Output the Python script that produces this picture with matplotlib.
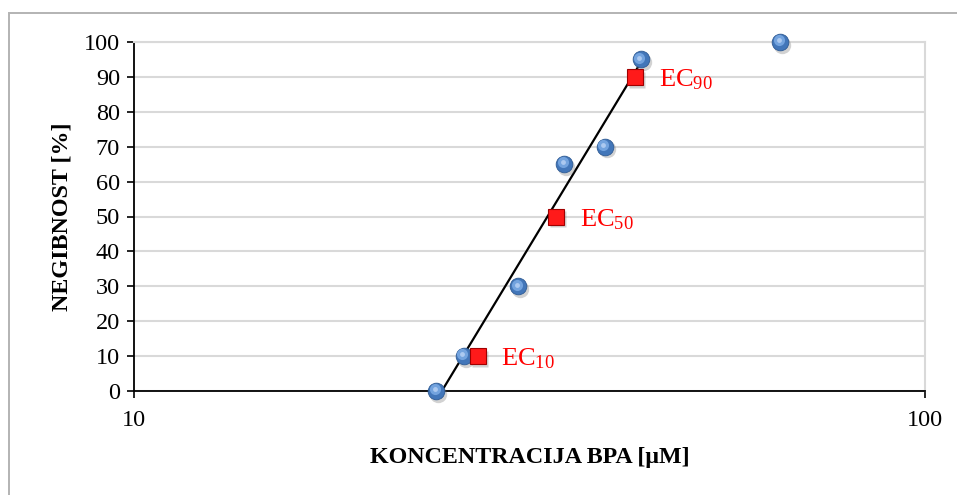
import matplotlib
matplotlib.use("Agg")
import matplotlib.pyplot as plt
import matplotlib.transforms as mtransforms
from matplotlib.patches import Rectangle

# measured points
conc = [24.1, 26.1, 30.6, 35.0, 39.4, 43.7, 65.6]
negib = [0, 10, 30, 65, 70, 95, 100]

# EC values
ec_conc = [27.2, 34.2, 43.0]
ec_val = [10, 50, 90]
ec_labels = [r"EC$_{10}$", r"EC$_{50}$", r"EC$_{90}$"]

# fitted line endpoints
line_x = [24.5, 43.9]
line_y = [0, 94.8]

plt.rcParams['font.family'] = ['Liberation Serif', 'DejaVu Serif']
plt.rcParams['mathtext.fontset'] = 'custom'
plt.rcParams['mathtext.rm'] = 'Liberation Serif'
plt.rcParams['mathtext.it'] = 'Liberation Serif:italic'

fig = plt.figure(figsize=(9.57, 4.95), dpi=100)
ax = fig.add_axes([134 / 957, 104 / 495, 791 / 957, 349 / 495])

# outer chart border (cut off on the right and bottom)
fig.patches.append(Rectangle((9 / 957, -0.1), 1.2, (495 - 13) / 495 + 0.1,
                             transform=fig.transFigure, fill=False,
                             edgecolor='#b3b3b3', linewidth=1.4))

ax.set_xscale('log')
ax.set_xlim(10, 100)
ax.set_ylim(0, 100)
ax.set_yticks(range(0, 101, 10))
ax.set_xticks([10, 100])
ax.set_xticklabels(['10', '100'])
ax.xaxis.set_minor_locator(matplotlib.ticker.NullLocator())
ax.grid(axis='y', color='#d9d9d9', linewidth=1.5)
ax.set_axisbelow(True)

for s in ['top', 'right']:
    ax.spines[s].set_color('#d9d9d9')
    ax.spines[s].set_linewidth(1.5)
ax.spines['left'].set_linewidth(1.3)
ax.spines['bottom'].set_linewidth(1.3)
ax.tick_params(axis='both', direction='out', length=5, width=1.2,
               labelsize=17.5)
ax.tick_params(axis='x', pad=9)
ax.tick_params(axis='y', pad=5)

ax.plot(line_x, line_y, color='black', linewidth=1.6, zorder=3)

# sphere-like markers: shadow, base, highlight
shadow = mtransforms.offset_copy(ax.transData, fig=fig, x=1.5, y=-2, units='points')
hl = mtransforms.offset_copy(ax.transData, fig=fig, x=-1.2, y=1.2, units='points')
ax.plot(conc, negib, 'o', ms=12.5, color='#7f7f7f', alpha=0.35, mec='none',
        transform=shadow, zorder=4, clip_on=False)
ax.plot(conc, negib, 'o', ms=12, color='#4276b9', mec='#2f5b94', mew=0.6,
        zorder=5, clip_on=False)
ax.plot(conc, negib, 'o', ms=8, color='#73a3de', mec='none',
        transform=hl, zorder=6, clip_on=False)
ax.plot(conc, negib, 'o', ms=3.5, color='#acc9f0', mec='none',
        transform=hl, zorder=7, clip_on=False)

ax.plot(ec_conc, ec_val, 's', ms=12, color='#7f7f7f', alpha=0.35, mec='none',
        transform=shadow, zorder=4)
ax.plot(ec_conc, ec_val, 's', ms=12, color='#ff1a1a', mec='#a00000', mew=0.8,
        zorder=8)

for xv, yv, lab in zip(ec_conc, ec_val, ec_labels):
    ax.annotate(lab, (xv, yv), xytext=(17, -2), textcoords='offset points',
                color='#ff0000', fontsize=19, va='center', ha='left')

ax.set_xlabel('KONCENTRACIJA BPA [μM]', fontsize=17.3, fontweight='bold', labelpad=11)
ax.set_ylabel('NEGIBNOST [%]', fontsize=17.3, fontweight='bold', labelpad=8)

fig.savefig('out.png', dpi=100)
